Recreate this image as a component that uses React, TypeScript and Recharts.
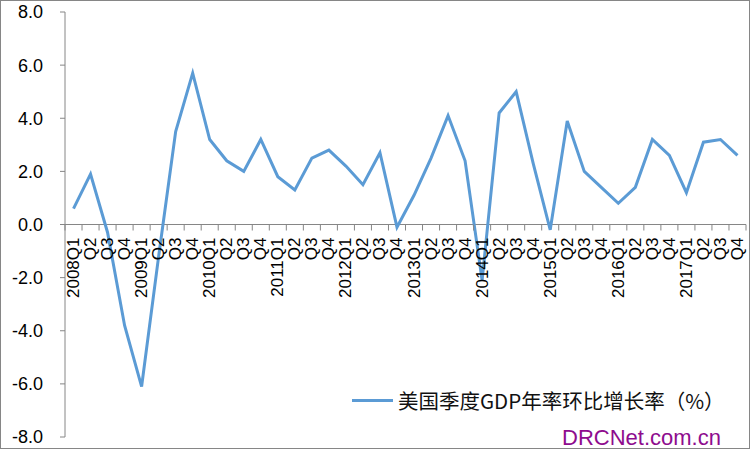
import React from 'react'
import { LineChart, Line, XAxis, YAxis, ReferenceLine } from 'recharts'

const YEARS = ['2008', '2009', '2010', '2011', '2012', '2013', '2014', '2015', '2016', '2017']
const QUARTERS = ['Q1', 'Q2', 'Q3', 'Q4']

// 美国季度GDP年率环比增长率（%）
const GDP_GROWTH = [
    0.6, 1.9, -0.3, -3.8,
    -6.1, -1.2, 3.5, 5.7,
    3.2, 2.4, 2.0, 3.2,
    1.8, 1.3, 2.5, 2.8,
    2.2, 1.5, 2.7, -0.1,
    1.1, 2.5, 4.1, 2.4,
    -2.1, 4.2, 5.0, 2.3,
    -0.2, 3.9, 2.0, 1.4,
    0.8, 1.4, 3.2, 2.6,
    1.2, 3.1, 3.2, 2.6,
]

const Y_TICKS = [-8, -6, -4, -2, 0, 2, 4, 6, 8]
const SERIES_NAME = '美国季度GDP年率环比增长率（%）'

const LABELS = YEARS.flatMap((y) => QUARTERS.map((q, i) => (i === 0 ? y + q : q)))
const data = LABELS.map((label, i) => ({ label, value: GDP_GROWTH[i] }))

const W = 751
const H = 451
const PLOT_LEFT = 65
const PLOT_RIGHT = 746
const PLOT_TOP = 12
const PLOT_BOTTOM = 437
const BAND = (PLOT_RIGHT - PLOT_LEFT) / LABELS.length
const ZERO_Y = (PLOT_TOP + PLOT_BOTTOM) / 2

const AXIS = '#868686'
const LINE = '#5B9BD5'
const FONT = '"Liberation Sans", Arial, sans-serif'

function QuarterTick(props: any) {
    const { x, payload, index } = props
    const last = index === LABELS.length - 1
    return (
        <g>
            <line x1={x - BAND / 2} x2={x - BAND / 2} y1={ZERO_Y} y2={ZERO_Y + 6} stroke={AXIS} />
            {last && <line x1={x + BAND / 2} x2={x + BAND / 2} y1={ZERO_Y} y2={ZERO_Y + 6} stroke={AXIS} />}
            <text
                x={0}
                y={0}
                transform={`translate(${x},${ZERO_Y + 13}) rotate(-90)`}
                textAnchor="end"
                dominantBaseline="central"
                fontSize={17}
                fontFamily={FONT}
                fill="#000"
            >
                {payload.value}
            </text>
        </g>
    )
}

export default function App() {
    return (
        <div style={{ position: 'absolute', left: 0, top: 0, width: W, height: H, overflow: 'hidden', background: '#fff' }}>
            <LineChart width={W} height={H} data={data} margin={{ top: PLOT_TOP, right: W - PLOT_RIGHT, bottom: 0, left: 0 }}>
                <XAxis
                    dataKey="label"
                    interval={0}
                    axisLine={false}
                    tickLine={false}
                    height={H - PLOT_BOTTOM}
                    padding={{ left: BAND / 2, right: BAND / 2 }}
                    tick={<QuarterTick />}
                />
                <YAxis
                    width={PLOT_LEFT}
                    domain={[-8, 8]}
                    ticks={Y_TICKS}
                    tickFormatter={(v: number) => v.toFixed(1)}
                    stroke={AXIS}
                    tickSize={5}
                    tickMargin={17}
                    tick={{ fill: '#000', fontSize: 18, fontFamily: FONT }}
                />
                <ReferenceLine y={0} stroke={AXIS} />
                <Line type="linear" dataKey="value" name={SERIES_NAME} stroke={LINE} strokeWidth={3} dot={false} isAnimationActive={false} />
            </LineChart>
            <div
                style={{
                    position: 'absolute',
                    left: 352,
                    top: 385,
                    display: 'flex',
                    alignItems: 'center',
                    fontFamily: '"Noto Sans CJK SC", sans-serif',
                    fontSize: 20.5,
                    color: '#111',
                    whiteSpace: 'nowrap',
                }}
            >
                <div style={{ width: 41, height: 3, background: LINE, marginRight: 5 }} />
                <span>{SERIES_NAME}</span>
            </div>
            <div
                style={{
                    position: 'absolute',
                    left: 562,
                    top: 425,
                    fontFamily: FONT,
                    fontSize: 22,
                    color: '#8E0C8E',
                    lineHeight: '26px',
                }}
            >
                DRCNet.com.cn
            </div>
            <div style={{ position: 'absolute', left: 0, top: 0, width: W - 1, height: H - 2, border: `1px solid ${AXIS}`, boxSizing: 'border-box', pointerEvents: 'none' }} />
        </div>
    )
}
